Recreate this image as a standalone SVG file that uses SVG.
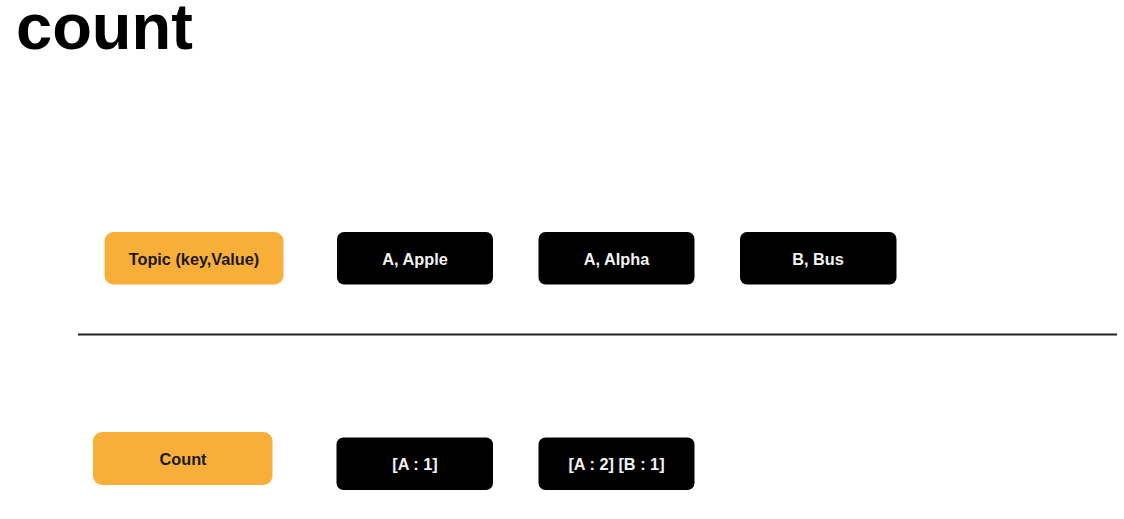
<svg xmlns="http://www.w3.org/2000/svg" width="1124" height="519" viewBox="0 0 1124 519">
<style>
.org{fill:#F8AF39}
.blk{fill:#000}
.t{font-family:"Liberation Sans",Arial,sans-serif;font-size:16.3px;font-weight:bold;text-anchor:middle}
.dk{fill:#1a1a1a}
.wt{fill:#f2f2f2}
</style>
<rect width="1124" height="519" fill="#fff"/>
<text x="16" y="49" font-family="Liberation Sans,Arial,sans-serif" font-size="65" font-weight="bold" fill="#000">count</text>
<g id="connectors">
<line x1="78" y1="334.5" x2="1117" y2="334.5" stroke="#222" stroke-width="2"/>
</g>
<g id="topic"><rect class="org" x="104.5" y="232" width="179" height="52.5" rx="9"/><text class="t dk" x="194" y="264.5">Topic (key,Value)</text></g>
<g id="apple"><rect class="blk" x="337" y="232" width="156" height="52.5" rx="7"/><text class="t wt" x="415" y="264.5">A, Apple</text></g>
<g id="alpha"><rect class="blk" x="538.5" y="232" width="156" height="52.5" rx="7"/><text class="t wt" x="616.5" y="264.5">A, Alpha</text></g>
<g id="bus"><rect class="blk" x="740" y="232" width="156.5" height="52.5" rx="7"/><text class="t wt" x="818" y="264.5">B, Bus</text></g>
<g id="count"><rect class="org" x="93" y="432" width="179.5" height="53" rx="9"/><text class="t dk" x="183" y="464.5">Count</text></g>
<g id="a1"><rect class="blk" x="336.5" y="437.5" width="156.5" height="52.5" rx="7"/><text class="t wt" x="415" y="470">[A : 1]</text></g>
<g id="a2b1"><rect class="blk" x="538.5" y="437.5" width="156" height="52.5" rx="7"/><text class="t wt" x="616.5" y="470">[A : 2] [B : 1]</text></g>
</svg>
